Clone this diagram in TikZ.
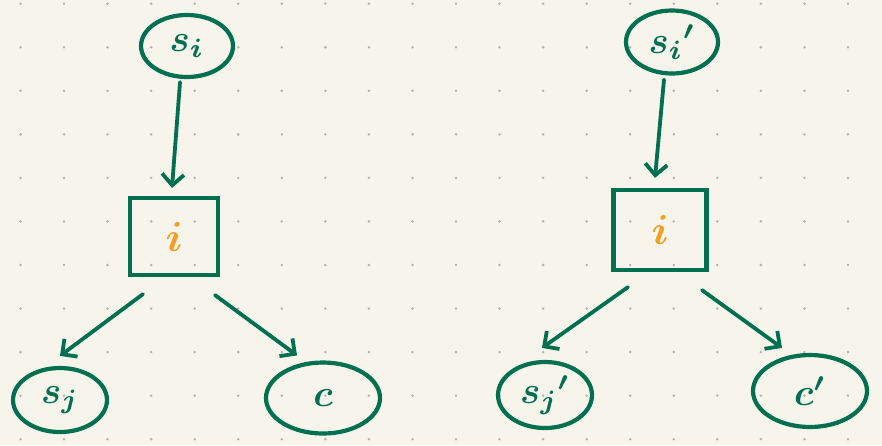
\documentclass[tikz,border=0pt]{standalone}
\usetikzlibrary{shapes.geometric,arrows.meta}
\definecolor{paper}{RGB}{247,245,235}
\definecolor{ink}{RGB}{0,112,80}
\definecolor{hl}{RGB}{243,158,32}
\definecolor{dotc}{RGB}{180,180,174}
\tikzset{
  stnode/.style={draw=ink, line width=4.2pt, ellipse, inner sep=0pt, text=ink},
  opbox/.style={draw=ink, line width=4.2pt, rectangle, inner sep=0pt, text=hl},
  conn/.style={draw=ink, line width=3.8pt, line cap=round,
    -{Straight Barb[length=11pt,width=22pt,line width=3.8pt]}}
}
\begin{document}
\begin{tikzpicture}[x=1pt,y=-1pt]
\fill[paper] (0,0) rectangle (882,445);
\useasboundingbox (0,0) rectangle (882,445);
\foreach \i in {0,...,19}{\foreach \j in {0,...,10}{
  \fill[dotc] (20.5+43.55*\i,3.7+43.55*\j) circle (1.4);}}
% left graph
\node[stnode, minimum width=92pt, minimum height=62pt] (si) at (187,46) {\scalebox{3.8}{\boldmath$s_i$}};
\node[opbox, minimum width=88pt, minimum height=77pt] (bi) at (174,236.5) {\scalebox{4.2}{\boldmath$i$}};
\node[stnode, minimum width=94pt, minimum height=64pt] (sj) at (60,400) {\scalebox{3.8}{\boldmath$s_j$}};
\node[stnode, minimum width=114pt, minimum height=71pt] (c) at (323,398) {\scalebox{3.8}{\boldmath$c$}};
\draw[conn] ([xshift=-7pt,yshift=-3pt]si.south) -- ([xshift=-2pt,yshift=8pt]bi.north);
\draw[conn] ([xshift=-31pt,yshift=-17pt]bi.south) -- ([xshift=0pt,yshift=10pt]sj.north);
\draw[conn] ([xshift=41pt,yshift=-18pt]bi.south) -- ([xshift=-26pt,yshift=5pt]c.north);
% right graph
\node[stnode, minimum width=92pt, minimum height=63pt] (si2) at (672,42) {\scalebox{3.8}{\boldmath$s_i{}'$}};
\node[opbox, minimum width=93pt, minimum height=80pt] (bi2) at (660,230) {\scalebox{4.2}{\boldmath$i$}};
\node[stnode, minimum width=94pt, minimum height=66pt] (sj2) at (545,395) {\scalebox{3.8}{\boldmath$s_j{}'$}};
\node[stnode, minimum width=114pt, minimum height=72pt] (c2) at (810,391) {\scalebox{3.8}{\boldmath$c'$}};
\draw[conn] ([xshift=-8pt,yshift=-4pt]si2.south) -- ([xshift=-5pt,yshift=10pt]bi2.north);
\draw[conn] ([xshift=-32pt,yshift=-15pt]bi2.south) -- ([xshift=-3pt,yshift=12pt]sj2.north);
\draw[conn] ([xshift=42pt,yshift=-18pt]bi2.south) -- ([xshift=-28pt,yshift=5pt]c2.north);
\end{tikzpicture}
\end{document}
